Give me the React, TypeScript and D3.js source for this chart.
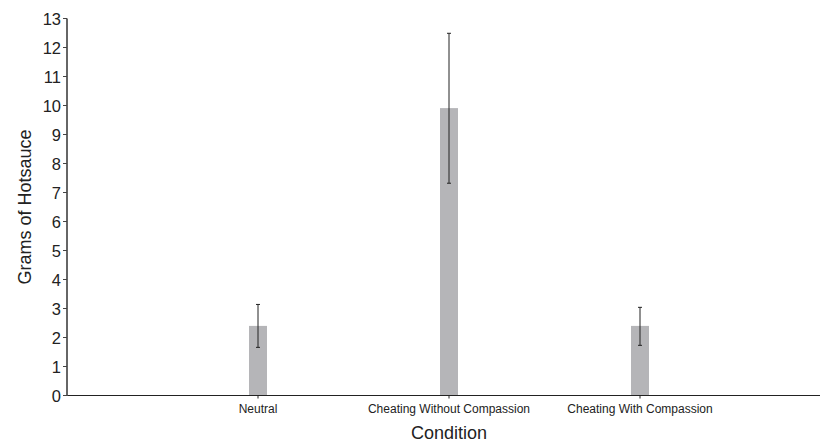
import React from 'react';
import * as d3 from 'd3';

const conditions = ['Neutral', 'Cheating Without Compassion', 'Cheating With Compassion'];
const means = [2.4, 9.91, 2.4];
const upper = [3.14, 12.49, 3.04];
const lower = [1.66, 7.32, 1.73];
const yTicks = [0, 1, 2, 3, 4, 5, 6, 7, 8, 9, 10, 11, 12, 13];

const W = 820;
const H = 445;

export default function App() {
  const x = d3.scaleLinear().domain([0, 4]).range([67, 831]);
  const y = d3.scaleLinear().domain([0, 13]).range([395.5, 18.5]);
  const barW = 18;
  const capW = 4;

  return (
    <>
      <style>{'html,body{margin:0;padding:0;overflow:hidden}'}</style>
      <svg width={W} height={H} style={{ position: 'absolute', left: 0, top: 0, background: '#fff', display: 'block' }}
        fontFamily="'Liberation Sans', Arial, sans-serif">
        {/* bars */}
        {means.map((m, i) => (
          <rect key={'b' + i} x={x(i + 1) - barW / 2} y={y(m)} width={barW} height={y(0) - y(m)} fill="#b5b5b8" />
        ))}
        {/* error bars */}
        {means.map((m, i) => {
          const cx = x(i + 1);
          return (
            <g key={'e' + i} stroke="#222" strokeWidth={1}>
              <line x1={cx} x2={cx} y1={y(upper[i])} y2={y(lower[i])} />
              <line x1={cx - capW / 2} x2={cx + capW / 2} y1={y(upper[i])} y2={y(upper[i])} />
              <line x1={cx - capW / 2} x2={cx + capW / 2} y1={y(lower[i])} y2={y(lower[i])} />
            </g>
          );
        })}
        {/* x axis */}
        <line x1={x(0)} x2={W} y1={y(0)} y2={y(0)} stroke="#222" strokeWidth={1.2} />
        {conditions.map((c, i) => (
          <g key={'x' + i}>
            <line x1={x(i + 1)} x2={x(i + 1)} y1={y(0)} y2={y(0) + 3} stroke="#222" />
            <text x={x(i + 1)} y={y(0) + 17} fontSize={12} textAnchor="middle" fill="#222">{c}</text>
          </g>
        ))}
        <text x={x(2)} y={439} fontSize={18} textAnchor="middle" fill="#222">Condition</text>
        {/* y axis */}
        <line x1={x(0)} x2={x(0)} y1={y(13)} y2={y(0)} stroke="#666" strokeWidth={2} />
        {yTicks.map(t => (
          <g key={'y' + t}>
            <line x1={x(0) - 4} x2={x(0)} y1={y(t)} y2={y(t)} stroke="#444" />
            <text x={x(0) - 6} y={y(t) + 6} fontSize={16.5} textAnchor="end" fill="#222">{t}</text>
          </g>
        ))}
        <text transform={`translate(30.5, ${(y(0) + y(13)) / 2}) rotate(-90)`} fontSize={18} textAnchor="middle" fill="#222">Grams of Hotsauce</text>
      </svg>
    </>
  );
}
